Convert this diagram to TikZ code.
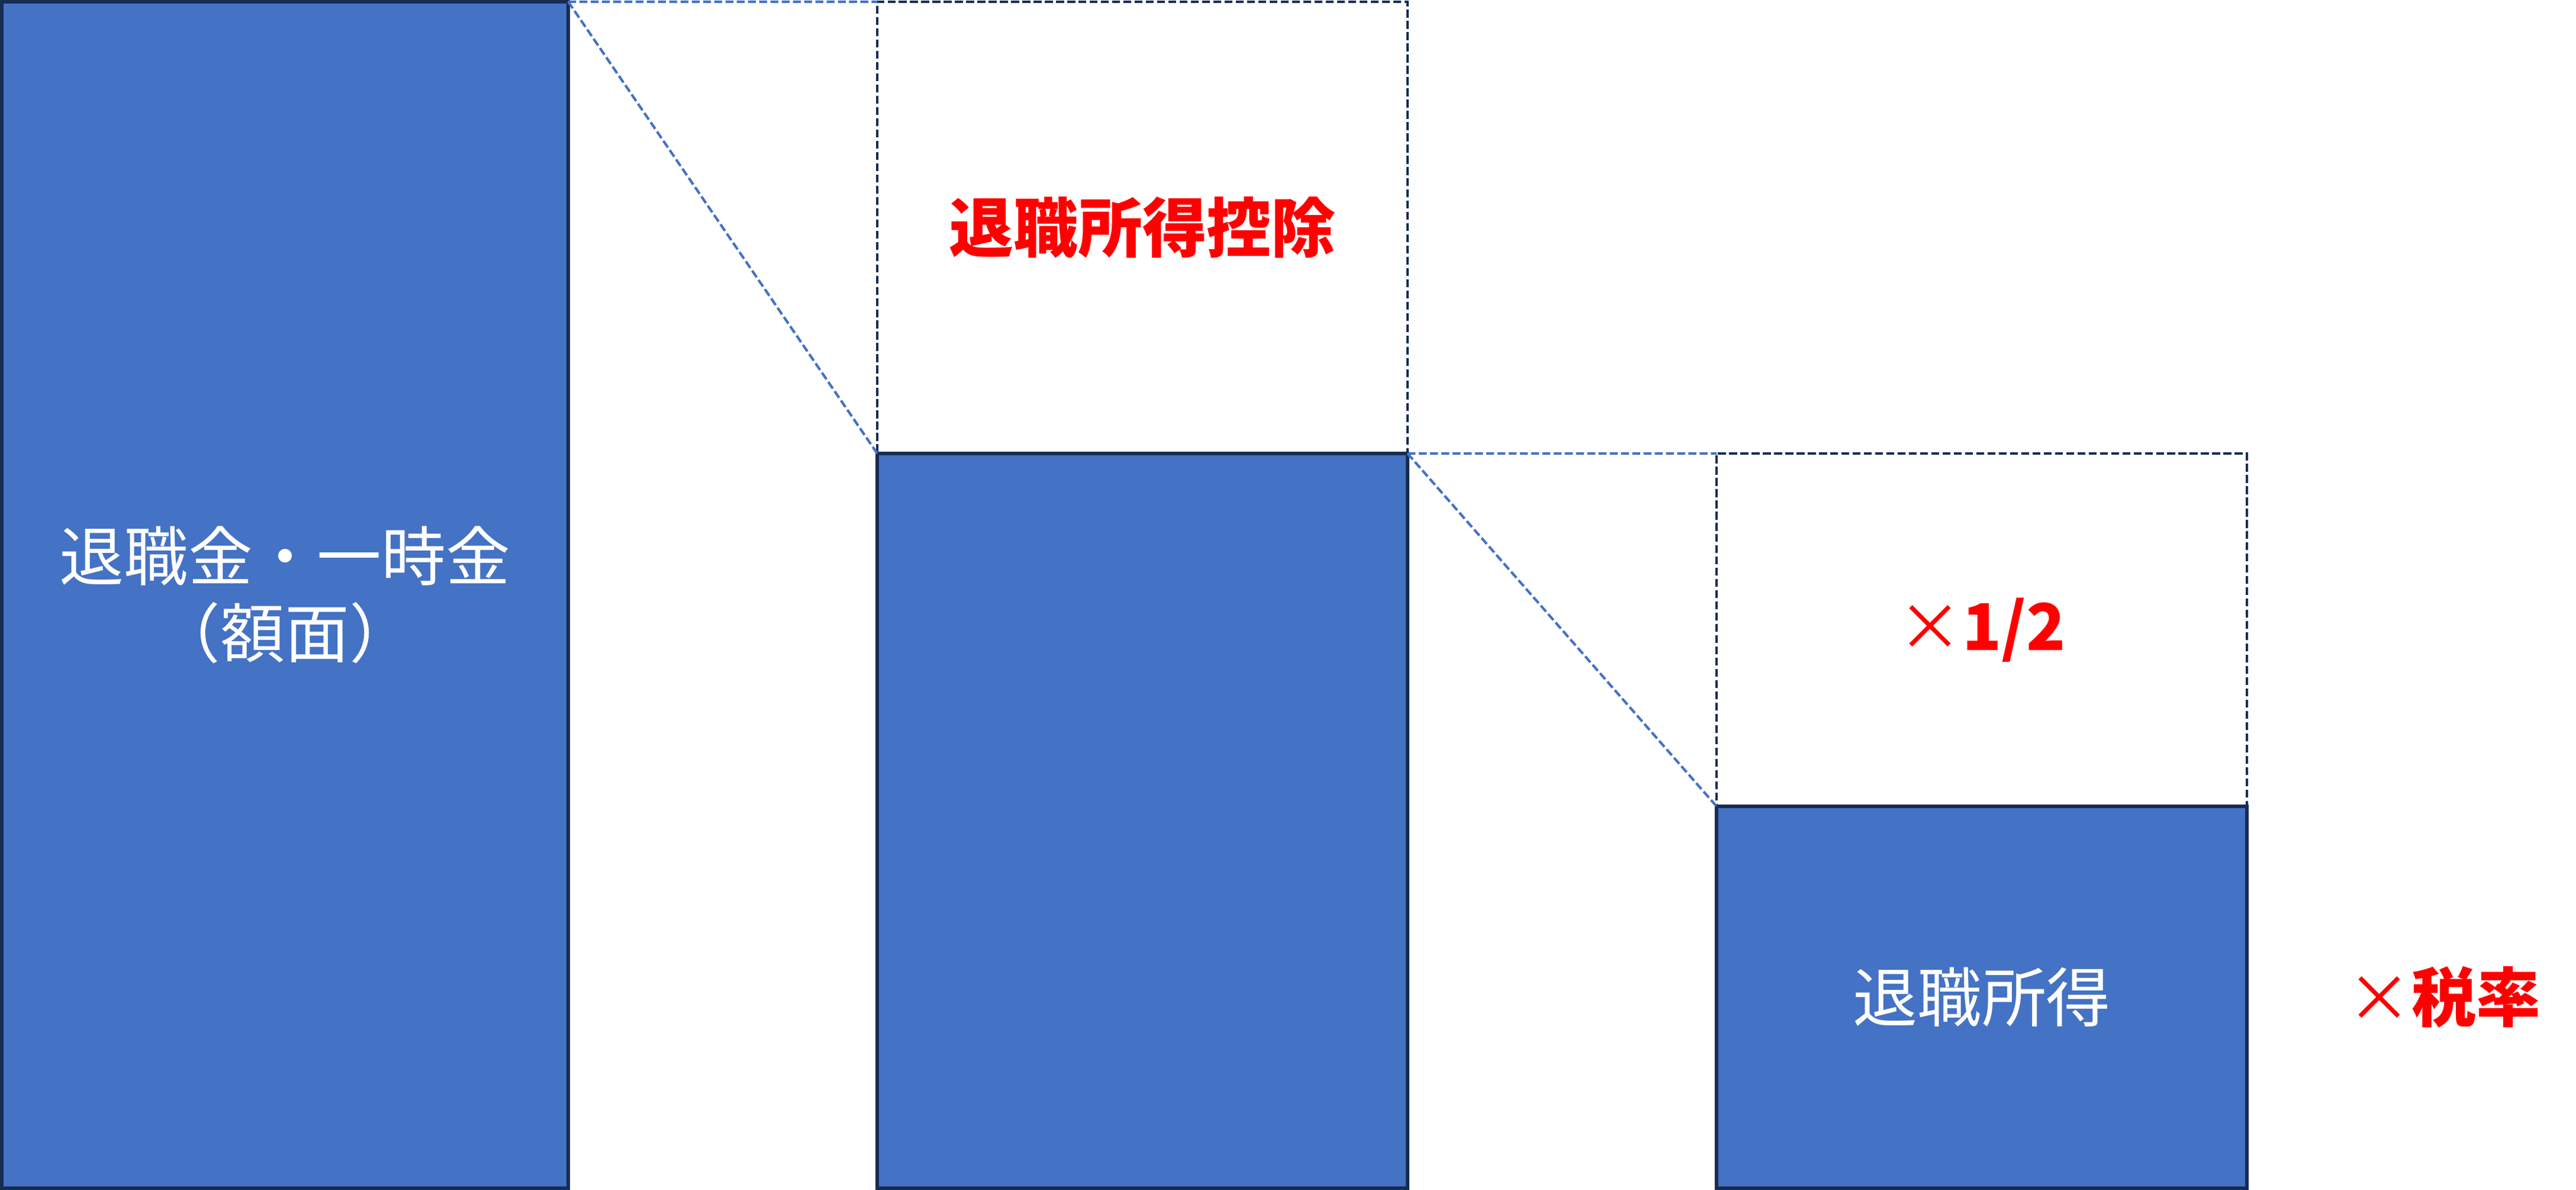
\documentclass[tikz,border=0pt]{standalone}
\usepackage{fontspec}
\usepackage{tikz}
\usetikzlibrary{positioning}
\newfontfamily\jpfont{Noto Sans CJK JP}
\definecolor{barblue}{HTML}{4472C4}
\definecolor{barline}{HTML}{172C51}
\definecolor{taxred}{HTML}{FF0000}

\begin{document}
\begin{tikzpicture}[
        font=\jpfont\fontsize{15.5}{18.5}\selectfont,
        bar/.style={draw=barline, line width=0.75pt, fill=barblue, text=white, inner sep=0pt, outer sep=0pt, align=center, minimum width=4.48cm},
        redtext/.style={text=taxred, font=\jpfont\bfseries\fontsize{15.5}{18.5}\selectfont},
        cutbox/.style={draw=barline, line width=0.6pt, dash pattern=on 1.9pt off 0.8pt, inner sep=0pt, outer sep=0pt, minimum width=4.48cm, redtext},
        guide/.style={draw=barblue, line width=0.6pt, dash pattern=on 1.9pt off 0.8pt},
    ]
        \useasboundingbox (0,0) rectangle (21.76,10.05);

        % Define nodes
        \node (gross) [bar, minimum width=4.785cm, minimum height=10.02cm] at (2.4075,5.025) {退職金・一時金\\（額面）};
        \node (rest) [bar, minimum height=6.205cm, anchor=south west] at (7.41,0.015) {};
        \node (deduct) [cutbox, minimum height=3.815cm, above=0pt of rest] {退職所得控除};
        \node (income) [bar, minimum height=3.225cm, anchor=south west] at (14.5,0.015) {退職所得};
        \node (half) [cutbox, minimum height=2.98cm, above=0pt of income] {{\mdseries ×}1/2};
        \node (rate) [redtext] at (20.645,1.63) {{\mdseries ×}税率};

        % Dashed guides between the bars
        \draw [guide] (gross.north east) -- (deduct.north west);
        \draw [guide] (gross.north east) -- (rest.north west);
        \draw [guide] (rest.north east) -- (half.north west);
        \draw [guide] (rest.north east) -- (income.north west);
    \end{tikzpicture}
\end{document}
